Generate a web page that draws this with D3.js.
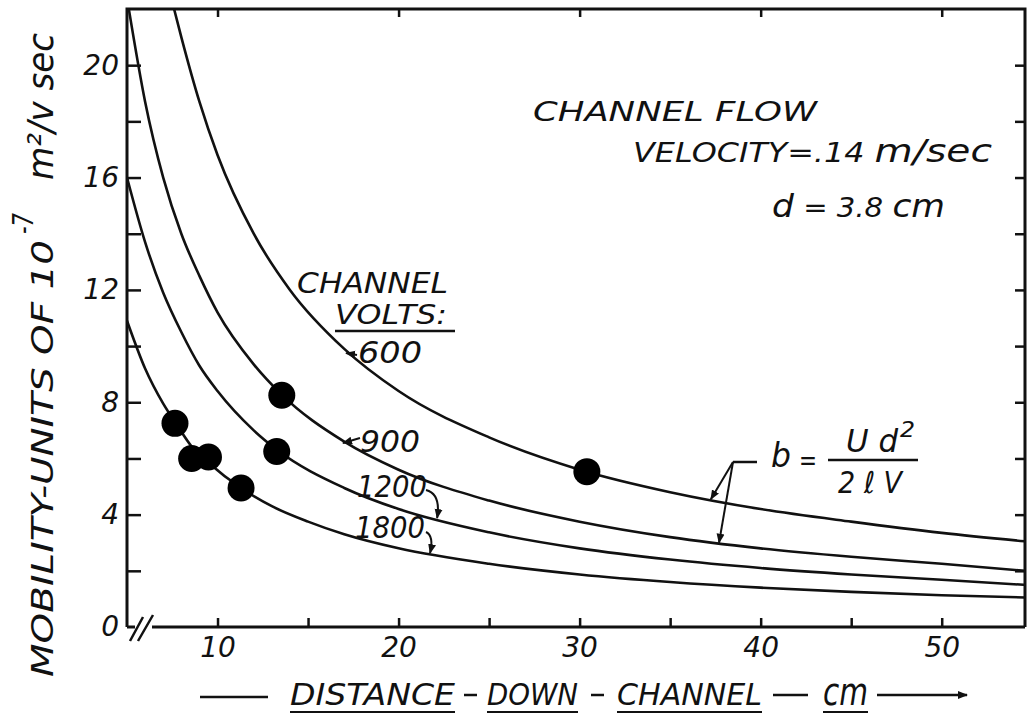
<!DOCTYPE html>
<html>
<head>
<meta charset="utf-8">
<script src="https://cdn.jsdelivr.net/npm/d3@7"></script>
<style>
body { margin: 0; background: #fff; }
svg { display: block; }
text { font-family: "DejaVu Sans", sans-serif; font-style: italic; fill: #111; }
.axis text { font-size: 28px; }
</style>
</head>
<body>
<div id="chart"></div>
<script>
// distance down channel (cm) / mobility (units of 10^-7 m2/v sec)
var volts = [600, 900, 1200, 1800];

var dist600 = [7.6, 8, 9, 10, 12, 14, 17, 20, 25, 30, 35, 40, 45, 50, 54.6];
var mob600  = [22, 21.0, 18.7, 16.8, 14.0, 12.0, 9.9, 8.4, 6.75, 5.6, 4.8, 4.2, 3.75, 3.35, 3.05];

var dist900 = [5.1, 6, 7, 8, 9, 10, 12, 13.5, 17, 20, 25, 30, 35, 40, 45, 50, 54.6];
var mob900  = [22, 18.7, 16.0, 14.0, 12.5, 11.2, 9.35, 8.3, 6.6, 5.6, 4.5, 3.75, 3.2, 2.8, 2.5, 2.25, 2.0];

var dist1200 = [5, 6, 7, 8, 9, 10, 12, 13.3, 17, 20, 25, 30, 35, 40, 45, 50, 54.6];
var mob1200  = [16.0, 13.7, 11.9, 10.5, 9.3, 8.4, 7.0, 6.3, 4.95, 4.2, 3.37, 2.8, 2.4, 2.1, 1.87, 1.68, 1.5];

var dist1800 = [5, 6, 7, 7.7, 8.6, 9.5, 11.3, 13, 15, 17, 20, 25, 30, 35, 40, 45, 50, 54.6];
var mob1800  = [10.9, 9.2, 7.95, 7.25, 6.4, 5.85, 4.95, 4.3, 3.75, 3.3, 2.8, 2.25, 1.87, 1.6, 1.4, 1.25, 1.13, 1.05];

// measured points
var pointDist = [7.65, 8.57, 9.5, 11.3, 13.55, 13.27, 30.4];
var pointMob  = [7.25, 6.0, 6.05, 4.95, 8.25, 6.25, 5.53];

var xTickLabels = [10, 20, 30, 40, 50];
var yTickLabels = [0, 4, 8, 12, 16, 20];

var curves = [
    {v: 600, d: dist600, m: mob600},
    {v: 900, d: dist900, m: mob900},
    {v: 1200, d: dist1200, m: mob1200},
    {v: 1800, d: dist1800, m: mob1800}
];

var svgWidth = 1031, svgHeight = 715;
var plotL = 127, plotR = 1025, plotT = 9, plotB = 627;

var svg = d3.select("#chart").append("svg")
    .attr("width", svgWidth)
    .attr("height", svgHeight);

var x = d3.scaleLinear().domain([5, 54.6]).range([plotL, plotR]);
var y = d3.scaleLinear().domain([0, 22]).range([plotB, plotT]);

var defs = svg.append("defs");
defs.append("clipPath").attr("id", "plot")
    .append("rect")
    .attr("x", plotL).attr("y", plotT)
    .attr("width", plotR - plotL).attr("height", plotB - plotT);

var arrow = defs.append("marker")
    .attr("id", "arrow")
    .attr("viewBox", "0 0 10 10")
    .attr("refX", 9).attr("refY", 5)
    .attr("markerWidth", 10).attr("markerHeight", 10)
    .attr("markerUnits", "userSpaceOnUse")
    .attr("orient", "auto");
arrow.append("path").attr("d", "M0,1 L10,5 L0,9 Z").attr("fill", "#111");

// axes
function styleAxis(g) {
    g.select(".domain").remove();
    g.selectAll(".tick line").attr("stroke", "#111").attr("stroke-width", 2.5);
}

var yTickVals = d3.range(0, 23, 2);
svg.append("g").attr("class", "axis")
    .attr("transform", "translate(" + plotL + ",0)")
    .call(d3.axisLeft(y).tickValues(yTickVals.slice(1, -1)).tickSizeInner(-14).tickSizeOuter(0).tickPadding(8)
        .tickFormat(function(d) { return yTickLabels.indexOf(d) >= 0 ? d : ""; }))
    .call(styleAxis);
// zero label sits on the axis corner
svg.append("text").attr("x", plotL - 8).attr("y", y(0)).attr("dy", "0.32em")
    .attr("text-anchor", "end").style("font-size", "28px").text("0");

svg.append("g").attr("class", "axis")
    .attr("transform", "translate(" + plotR + ",0)")
    .call(d3.axisRight(y).tickValues(yTickVals.slice(1, -1)).tickSizeInner(-10).tickSizeOuter(0).tickFormat(""))
    .call(styleAxis);

svg.append("g").attr("class", "axis")
    .attr("transform", "translate(0," + plotB + ")")
    .call(d3.axisBottom(x).tickValues(d3.range(10, 55, 5)).tickSizeInner(-9).tickSizeOuter(0).tickPadding(10)
        .tickFormat(function(d) { return xTickLabels.indexOf(d) >= 0 ? d : ""; }))
    .call(styleAxis);

svg.append("g").attr("class", "axis")
    .attr("transform", "translate(0," + plotT + ")")
    .call(d3.axisTop(x).tickValues(xTickLabels).tickSizeInner(-8).tickSizeOuter(0).tickFormat(""))
    .call(styleAxis);

// frame
var frame = svg.append("g").attr("stroke", "#111").attr("stroke-width", 3).attr("fill", "none");
frame.append("path").attr("d", "M" + plotL + "," + plotB + "V" + plotT + "H" + plotR + "V" + plotB);
frame.append("path").attr("d", "M" + (plotL + 25) + "," + plotB + "H" + plotR);
frame.append("path").attr("d", "M" + plotL + "," + plotB + "H" + (plotL + 8));
frame.append("path").attr("stroke-width", 2.5).attr("d", "M130,641 L143,617 M138,641 L153,615");

// curves
var line = d3.line()
    .x(function(p) { return x(p[0]); })
    .y(function(p) { return y(p[1]); })
    .curve(d3.curveMonotoneX);

svg.append("g").attr("clip-path", "url(#plot)")
    .selectAll("path").data(curves).enter().append("path")
    .attr("d", function(c) { return line(d3.zip(c.d, c.m)); })
    .attr("fill", "none")
    .attr("stroke", "#111")
    .attr("stroke-width", 2.6);

svg.append("g").selectAll("circle").data(d3.zip(pointDist, pointMob)).enter().append("circle")
    .attr("cx", function(p) { return x(p[0]); })
    .attr("cy", function(p) { return y(p[1]); })
    .attr("r", 13.5)
    .attr("fill", "#000");

// lettering
function label(t, px, py, size, len) {
    var el = svg.append("text").attr("x", px).attr("y", py)
        .style("font-size", size + "px").text(t);
    if (len) el.attr("textLength", len).attr("lengthAdjust", "spacingAndGlyphs");
    return el;
}
function rule(x1, y1, x2, y2, w) {
    return svg.append("line").attr("x1", x1).attr("y1", y1).attr("x2", x2).attr("y2", y2)
        .attr("stroke", "#111").attr("stroke-width", w || 2.5);
}
function pointer(x1, y1, tipD, tipM, curved) {
    var tx = x(tipD), ty = y(tipM);
    var d = curved ? "M" + x1 + "," + y1 + "Q" + (tx + 4) + "," + (y1 + 4) + " " + tx + "," + ty
                   : "M" + x1 + "," + y1 + "L" + tx + "," + ty;
    svg.append("path").attr("d", d).attr("fill", "none").attr("stroke", "#111")
        .attr("stroke-width", 2).attr("marker-end", "url(#arrow)");
}

label("CHANNEL", 297, 293, 28, 151);
label("VOLTS:", 335, 324, 26, 112);
rule(335, 331, 455, 331);
label("600", 358, 363, 30, 64);
label("900", 360, 452, 30, 60);
label("1200", 357, 497, 30, 70);
label("1800", 355, 538, 30, 70);

pointer(357, 355, 17.1, 9.75, false);
pointer(360, 438, 16.93, 6.55, false);
pointer(426, 490, 22.13, 3.88, true);
pointer(426, 532, 21.74, 2.63, true);

label("CHANNEL  FLOW", 533, 121, 26, 284);
var vel = label("", 633, 162, 26, 359);
vel.append("tspan").text("VELOCITY=.14 ");
vel.append("tspan").style("font-size", "32px").text("m/sec");
var dd = label("", 772, 217, 32, 173);
dd.append("tspan").text("d");
dd.append("tspan").style("font-size", "27px").text(" = 3.8 ");
dd.append("tspan").text("cm");

// formula b = U d^2 / (2 l V)
label("b", 771, 467, 34, 20);
label("=", 799, 470, 28, 18);
rule(828, 460, 918, 460, 2.5);
label("U d", 846, 452, 32, 52);
label("2", 900, 437, 22, 15);
label("2 \u2113 V", 838, 493, 30, 64);
rule(733, 462, 757, 462, 2.5);
svg.append("path").attr("d", "M733,462 L" + x(37.25) + "," + y(4.55))
    .attr("stroke", "#111").attr("stroke-width", 2).attr("marker-end", "url(#arrow)");
svg.append("path").attr("d", "M733,462 L" + x(37.7) + "," + y(3.0))
    .attr("stroke", "#111").attr("stroke-width", 2).attr("marker-end", "url(#arrow)");

// x axis title
rule(200, 697, 268, 697, 2.5);
label("DISTANCE", 290, 705, 30, 165);
rule(464, 695, 477, 695, 2.5);
label("DOWN", 487, 705, 30, 91);
rule(591, 695, 604, 695, 2.5);
label("CHANNEL", 617, 705, 30, 145);
rule(773, 695, 808, 695, 2.5);
label("cm", 823, 705, 38, 45);
svg.append("path").attr("d", "M877,695 H967").attr("stroke", "#111").attr("stroke-width", 2.5)
    .attr("marker-end", "url(#arrow)");
[[290, 455], [487, 578], [617, 762], [823, 868]].forEach(function(u) { rule(u[0], 712, u[1], 712, 2); });

// y axis title (rotated)
function vlabel(t, bx, startY, size, len) {
    return svg.append("text")
        .attr("transform", "translate(" + bx + "," + startY + ") rotate(-90)")
        .attr("textLength", len).attr("lengthAdjust", "spacingAndGlyphs")
        .style("font-size", size + "px").text(t);
}
vlabel("MOBILITY-UNITS OF 10", 53, 677, 30, 437);
vlabel("-7", 33, 234, 28, 21);
vlabel("m\u00b2/v sec", 53, 180, 36, 147);
</script>
</body>
</html>
